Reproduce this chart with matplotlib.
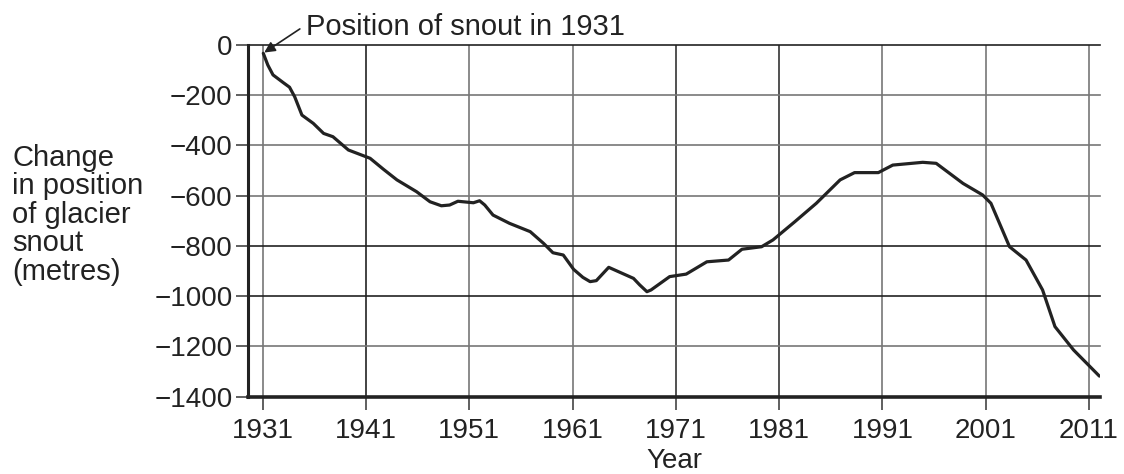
import matplotlib
matplotlib.use("Agg")
import matplotlib.pyplot as plt

plt.rcParams['font.family'] = ['Liberation Sans', 'DejaVu Sans']

years = [1931.06, 1931.5, 1932.0, 1933.0, 1933.6, 1934.1, 1934.8, 1935.9, 1936.9, 1937.8,
         1939.3, 1941.4, 1942.7, 1944.0, 1945.9, 1947.2, 1948.3, 1949.1, 1949.9,
         1951.4, 1952.0, 1952.5, 1953.3, 1954.9, 1956.9, 1958.2, 1959.1, 1960.1,
         1961.1, 1962.0, 1962.7, 1963.3, 1964.5, 1966.9, 1967.5, 1968.2, 1968.6, 1970.4,
         1972.0, 1974.0, 1976.1, 1977.4, 1979.3, 1980.4, 1982.5, 1984.6, 1986.9,
         1988.3, 1990.6, 1992.0, 1994.9, 1996.2, 1998.8, 2000.7, 2001.5, 2003.3,
         2004.9, 2006.5, 2007.7, 2009.5, 2012.0]
change = [-33, -80, -119, -150, -168, -206, -279, -312, -352, -365,
          -418, -451, -495, -537, -584, -624, -640, -637, -622,
          -628, -620, -637, -677, -710, -743, -790, -827, -836,
          -893, -925, -942, -938, -885, -929, -955, -982, -975, -922,
          -912, -863, -856, -813, -803, -776, -704, -630, -537,
          -508, -508, -478, -467, -471, -551, -597, -630, -803,
          -856, -975, -1121, -1214, -1318]

xticks = [1931, 1941, 1951, 1961, 1971, 1981, 1991, 2001, 2011]
yticks = [0, -200, -400, -600, -800, -1000, -1200, -1400]

fig = plt.figure(figsize=(11.24, 4.74), dpi=100)
ax = fig.add_axes([248/1124, 77.3/474, 852/1124, 351.7/474])

ax.set_xlim(1929.58, 2012.06)
ax.set_ylim(-1400, 0)

# grid lines
vcols = ['#777777', '#222222', '#777777', '#777777', '#333333', '#333333', '#777777', '#777777', '#777777']
hcols = {0: '#222222', -200: '#777777', -400: '#777777', -600: '#777777',
         -800: '#222222', -1000: '#222222', -1200: '#777777'}
for xv, c in zip(xticks, vcols):
    ax.axvline(xv, color=c, lw=1.2, zorder=1)
for yv, c in hcols.items():
    ax.axhline(yv, color=c, lw=1.2, zorder=1, clip_on=False)

ax.plot(years, change, color='#222222', lw=2.3, solid_joinstyle='round',
        solid_capstyle='round', zorder=3)

ax.set_xticks(xticks)
ax.set_xticklabels([str(x) for x in xticks])
ax.set_yticks(yticks)
ax.set_yticklabels(['0' if v == 0 else '\u2212' + str(-v) for v in yticks])
ax.tick_params(axis='both', direction='out', length=9, width=1.2, color='#444444',
               labelsize=20, labelcolor='#222222')
ax.tick_params(axis='x', pad=6)
ax.tick_params(axis='y', pad=2)

for s in ['top', 'right']:
    ax.spines[s].set_visible(False)
ax.spines['left'].set_linewidth(2.2)
ax.spines['bottom'].set_linewidth(2.6)
ax.spines['left'].set_color('#222222')
ax.spines['bottom'].set_color('#222222')

ax.set_xlabel('Year', fontsize=20, color='#222222', labelpad=3)

fig.text(12/1124, 1 - 144/474, 'Change\nin position\nof glacier\nsnout\n(metres)',
         ha='left', va='top', fontsize=21, color='#222222', linespacing=1.02)

ax.text(1935.2, 40, 'Position of snout in 1931', fontsize=21, color='#222222',
        ha='left', va='baseline')
ax.annotate('', xy=(1931.15, -30), xytext=(1934.6, 64),
            arrowprops=dict(arrowstyle='-|>', lw=1.2, color='#222222', mutation_scale=16,
                            shrinkA=0, shrinkB=0),
            annotation_clip=False)

fig.savefig('out.png', dpi=100)
